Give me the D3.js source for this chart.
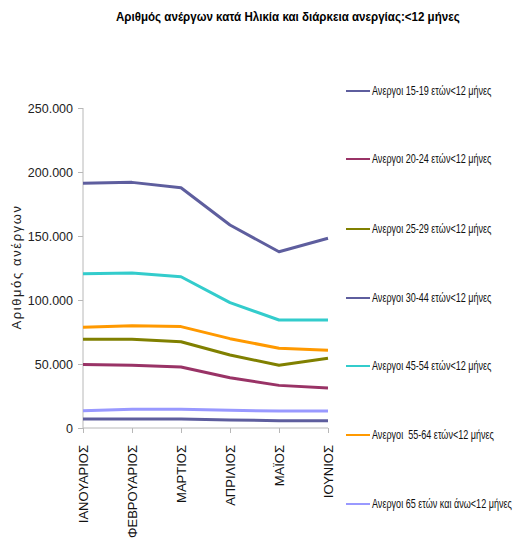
<!DOCTYPE html>
<html><head><meta charset="utf-8">
<script src="https://cdn.jsdelivr.net/npm/d3@7"></script>
<style>body{margin:0;background:#fff}svg{display:block}</style>
</head><body>
<svg id="c" width="520" height="551"></svg>
<script>
const months = ["ΙΑΝΟΥΑΡΙΟΣ","ΦΕΒΡΟΥΑΡΙΟΣ","ΜΑΡΤΙΟΣ","ΑΠΡΙΛΙΟΣ","ΜΑΪΟΣ","ΙΟΥΝΙΟΣ"];
const seriesNames = ["Ανεργοι 15-19 ετών<12 μήνες","Ανεργοι 20-24 ετών<12 μήνες","Ανεργοι 25-29 ετών<12 μήνες","Ανεργοι 30-44 ετών<12 μήνες","Ανεργοι 45-54 ετών<12 μήνες","Ανεργοι  55-64 ετών<12 μήνες","Ανεργοι 65 ετών και άνω<12 μήνες"];
const s15_19 = [7000,7000,7000,6300,5700,5700];
const s20_24 = [49700,49000,47700,39300,33300,31300];
const s25_29 = [69300,69300,67400,57000,49000,54500];
const s30_44 = [191200,191900,187700,158600,137700,148200];
const s45_54 = [120500,121100,118200,97900,84400,84400];
const s55_64 = [78700,79900,79200,69800,62300,60700];
const s65 = [13500,14600,14600,13800,13300,13300];
const seriesValues = [s15_19,s20_24,s25_29,s30_44,s45_54,s55_64,s65];
const colors = ["#5e5e9e","#993366","#808000","#5e5e9e","#33cccc","#ff9900","#9999ff"];
const yTicks = [0,50000,100000,150000,200000,250000];
const title = "Αριθμός ανέργων κατά Ηλικία και διάρκεια ανεργίας:<12 μήνες";
const yTitle = "Αριθμός ανέργων";

const svg = d3.select("#c");
const x = d3.scalePoint().domain(months).range([83,328]);
const y = d3.scaleLinear().domain([0,250000]).range([428,108]);
const fmt = v => v===0 ? "0" : d3.format(",")(v).replace(/,/g,".");

// title, horizontally condensed to the reference width
const tg = svg.append("g");
const tt = tg.append("text").attr("x",0).attr("y",0)
  .attr("font-family","Liberation Sans, Arial, sans-serif")
  .attr("font-weight","bold").attr("font-size",13).attr("fill","#000").text(title);
const tw = tt.node().getComputedTextLength();
tg.attr("transform",`translate(116,21) scale(${344/tw},1)`);

const ya = svg.append("g").attr("transform","translate(83,0)")
  .call(d3.axisLeft(y).tickValues(yTicks).tickFormat(fmt).tickSize(5).tickPadding(5));
ya.select(".domain").attr("stroke","#b8b8b8").attr("d","M0,108V428");
ya.selectAll(".tick line").attr("stroke","#b8b8b8");
ya.selectAll(".tick text").attr("font-family","Liberation Sans, Arial, sans-serif").attr("font-size",12.5).attr("fill","#222");

const xa = svg.append("g").attr("transform","translate(0,428)")
  .call(d3.axisBottom(x).tickSize(5).tickPadding(0));
xa.select(".domain").attr("stroke","#b8b8b8").attr("d","M83,0H328");
xa.selectAll(".tick line").attr("stroke","#b8b8b8");
xa.selectAll(".tick text").attr("font-family","Liberation Sans, Arial, sans-serif").attr("font-size",13).attr("fill","#111")
  .attr("text-anchor","end").attr("dy","0.35em").attr("transform","translate(0,17) rotate(-90)").attr("y",0);

svg.append("text").attr("transform","translate(21,267) rotate(-90)").attr("text-anchor","middle")
  .attr("font-family","Liberation Sans, Arial, sans-serif").attr("font-size",13).attr("fill","#222")
  .attr("letter-spacing",1.6).text(yTitle);

const line = d3.line().x((d,i)=>x(months[i])).y(d=>y(d));
const order = [6,0,1,2,5,4,3];
order.forEach(k=>{
  svg.append("path").attr("d",line(seriesValues[k])).attr("fill","none")
    .attr("stroke",colors[k]).attr("stroke-width",3).attr("stroke-linejoin","round");
});

const ly = [91,159,229,298,366,435,504];
const groups = [];
seriesNames.forEach((n,i)=>{
  svg.append("line").attr("x1",346).attr("x2",370).attr("y1",ly[i]).attr("y2",ly[i]).attr("stroke",colors[i]).attr("stroke-width",2);
  const g = svg.append("g");
  const t = g.append("text").attr("x",0).attr("y",0).attr("dy","0.35em")
    .style("white-space","pre")
    .attr("font-family","Liberation Sans, Arial, sans-serif").attr("font-size",12.5).attr("fill","#111").text(n);
  groups.push({g, t, y: ly[i]});
});
const w0 = groups[0].t.node().getComputedTextLength();
const wl = groups[groups.length-1].t.node().getComputedTextLength();
const factor = Math.min(125 / w0, 140 / wl);
groups.forEach(o=> o.g.attr("transform",`translate(372,${o.y}) scale(${factor},1)`));
</script>
</body></html>
